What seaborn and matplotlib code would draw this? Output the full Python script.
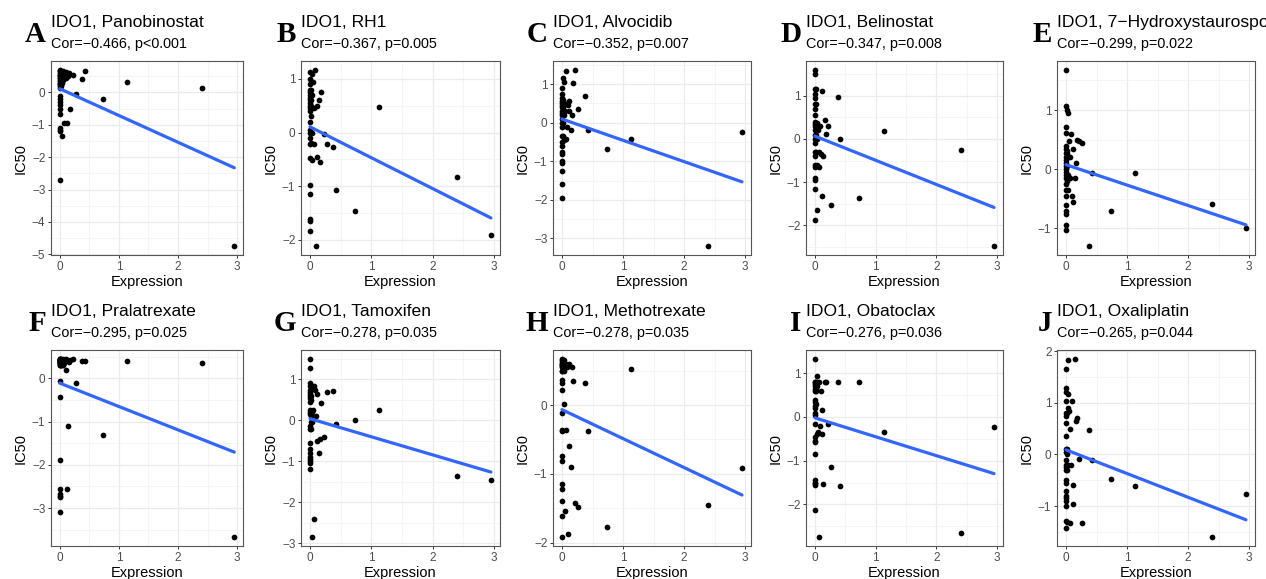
import numpy as np
import pandas as pd
import matplotlib
matplotlib.use("Agg")
import matplotlib.pyplot as plt
from matplotlib.ticker import MultipleLocator
import seaborn as sns

# ---------------- data ----------------
gene = "IDO1"
letters = ["A", "B", "C", "D", "E", "F", "G", "H", "I", "J"]
drugs = ["Panobinostat", "RH1", "Alvocidib", "Belinostat", "7\u2212Hydroxystaurosporine",
         "Pralatrexate", "Tamoxifen", "Methotrexate", "Obatoclax", "Oxaliplatin"]
cors = ["\u22120.466", "\u22120.367", "\u22120.352", "\u22120.347", "\u22120.299",
        "\u22120.295", "\u22120.278", "\u22120.278", "\u22120.276", "\u22120.265"]
pvals = ["p<0.001", "p=0.005", "p=0.007", "p=0.008", "p=0.022",
         "p=0.025", "p=0.035", "p=0.035", "p=0.036", "p=0.044"]

# shared expression values of the cell lines
expression = [0.38, 0.42, 0.73, 1.13, 2.40, 2.95,
              0.27, 0.22, 0.18, 0.16, 0.14, 0.12, 0.11, 0.10, 0.08, 0.07, 0.06,
              0.05, 0.04, 0.04, 0.03, 0.03, 0.02, 0.02, 0.01, 0.01, 0.01,
              0.0, 0.0, 0.0, 0.0, 0.0, 0.0, 0.0, 0.0, 0.0, 0.0, 0.0, 0.0,
              0.0, 0.0, 0.0, 0.0, 0.0, 0.0, 0.0, 0.0, 0.0, 0.0, 0.0]

ic50_panobinostat = [0.42, 0.65, -0.2, 0.32, 0.13, -4.75,
                     -0.05, 0.55, -0.5, 0.6, 0.5, -0.95, 0.62, 0.45, -0.93, 0.55, 0.4,
                     0.65, 0.3, 0.5, -1.35, 0.6, 0.35, 0.2, 0.65, 0.45, 0.25,
                     0.7, 0.65, 0.6, 0.55, 0.5, 0.45, 0.4, 0.35, 0.3, 0.25, 0.2, -0.1,
                     -0.2, -0.3, -0.4, -0.5, -0.65, -1.1, -1.15, -1.2, -2.72, 0.15, 0.55]
ic50_rh1 = [-0.27, -1.07, -1.47, 0.47, -0.83, -1.92,
            -0.22, -0.02, 0.75, -0.55, 0.6, -0.45, 0.5, -2.12, 1.17, 0.45, -0.22,
            0.95, -0.52, 0.7, 0.0, 1.1, -0.2, 0.6, 0.5, 0.8, 0.3,
            1.12, 1.0, 0.9, 0.8, 0.7, 0.6, 0.5, 0.45, 0.4, 0.2, 0.05, 0.0,
            -0.1, -0.22, -0.48, -0.98, -1.15, -1.62, -1.65, -1.83, 0.65, 0.55, 0.75]
ic50_alvocidib = [0.68, -0.18, -0.69, -0.43, -3.2, -0.25,
                  0.36, 1.37, 1.03, 0.2, -0.2, 0.55, 0.3, 0.45, -0.1, -0.42, 1.35,
                  0.3, 1.05, -0.45, 0.5, 0.2, -0.35, 0.6, 0.4, 1.15, 0.0,
                  0.9, 0.75, 0.65, 0.55, 0.45, 0.4, 0.3, 0.2, 0.1, 0.0, -0.1, -0.35,
                  -0.5, -0.6, -0.75, -0.8, -1.0, -1.05, -1.25, -1.58, -1.95, 0.5, 0.25]
ic50_belinostat = [0.97, 0.0, -1.36, 0.18, -0.26, -2.48,
                   -1.52, 0.3, 0.12, 0.45, -0.4, 1.12, -1.32, -0.35, 0.3, -0.3, -0.65,
                   0.2, -1.65, 0.0, 0.38, -0.6, 1.15, 0.25, 0.8, -0.3, 0.1,
                   1.6, 1.5, 1.15, 1.05, 0.95, 0.8, 0.7, 0.4, 0.3, 0.2, 0.1, 0.0,
                   -0.1, -0.3, -0.4, -0.6, -0.65, -0.9, -0.95, -1.15, -1.88, 0.55, 0.35]
ic50_hydroxystaurosporine = [-1.3, -0.06, -0.71, -0.06, -0.58, -0.99,
                             0.45, 0.47, 0.5, 0.1, -0.15, -0.55, 0.35, -0.45, 0.6, -0.15, 0.2,
                             0.48, -0.35, 0.95, 0.2, -0.1, 1.0, 0.3, -0.2, 0.05, 0.25,
                             1.68, 1.07, 0.72, 0.62, 0.4, 0.35, 0.28, 0.2, 0.1, 0.05, 0.0, -0.05,
                             -0.15, -0.25, -0.35, -0.45, -0.6, -0.7, -0.75, -0.95, -1.03, 0.15, -0.1]
ic50_pralatrexate = [0.4, 0.4, -1.32, 0.4, 0.35, -3.67,
                     -0.1, 0.45, 0.42, 0.38, -1.1, -2.55, 0.45, 0.2, 0.35, 0.42, 0.3,
                     0.45, 0.38, 0.3, 0.42, 0.35, 0.45, 0.3, 0.4, 0.35, 0.45,
                     0.45, 0.42, 0.4, 0.38, 0.35, 0.32, 0.3, 0.45, 0.4, -0.05, -0.43, -1.88,
                     -2.55, -2.68, -2.72, -2.75, -3.1, 0.35, 0.42, 0.3, 0.38, 0.45, 0.4]
ic50_tamoxifen = [0.72, -0.1, 0.02, 0.25, -1.35, -1.45,
                  0.7, -0.4, 0.43, -0.45, -0.8, 0.65, -0.5, 0.1, 0.75, 0.85, -2.42,
                  0.25, -2.85, -0.05, 0.2, 0.85, -0.2, 0.6, 0.5, 0.1, -0.05,
                  1.5, 1.27, 0.92, 0.85, 0.75, 0.65, 0.55, 0.45, 0.25, 0.2, 0.15, -0.15,
                  -0.2, -0.55, -0.7, -0.8, -0.9, -0.95, -1.0, -1.05, -1.18, 0.7, 0.6]
ic50_methotrexate = [0.32, -0.38, -1.78, 0.52, -1.45, -0.92,
                     -1.48, -1.43, 0.35, 0.55, -0.9, -0.6, 0.6, -1.88, 0.55, -0.37, 0.6,
                     -1.54, 0.02, 0.65, 0.55, 0.5, 0.62, 0.58, 0.6, 0.55, 0.65,
                     0.67, 0.63, 0.6, 0.57, 0.5, 0.37, 0.32, 0.22, -0.12, -0.37, -0.38, -0.74,
                     -0.82, -1.15, -1.22, -1.39, -1.62, -1.92, 0.55, 0.6, 0.65, 0.5, 0.58]
ic50_obatoclax = [0.8, -1.58, 0.8, -0.35, -2.65, -0.23,
                  -1.15, -0.17, 0.8, 0.8, -1.53, 0.15, -0.4, 0.6, -0.2, 0.8, -2.75,
                  -0.35, 0.95, 0.7, 0.8, -0.4, 0.65, 0.75, 0.8, 0.6, 0.3,
                  1.33, 0.8, 0.75, 0.7, 0.65, 0.6, 0.4, 0.35, 0.25, 0.1, 0.05, -0.15,
                  -0.45, -0.55, -0.58, -0.85, -1.45, -1.5, -1.52, -1.55, -2.13, 0.8, 0.2]
ic50_oxaliplatin = [0.47, -0.1, -0.47, -0.61, -1.6, -0.76,
                    -1.32, -0.08, 0.7, 0.65, 1.85, -0.95, -0.6, 1.03, -0.2, -1.33, 0.5,
                    0.85, 1.83, -0.2, 1.18, 0.9, -1.3, 0.8, -0.3, 0.0, 0.1,
                    1.65, 1.28, 1.2, 1.03, 0.8, 0.75, 0.6, 0.35, 0.1, 0.05, -0.1, -0.2,
                    -0.3, -0.5, -0.55, -0.7, -0.8, -0.85, -0.9, -1.0, -1.28, -1.43, -0.25]

ic50_all = [ic50_panobinostat, ic50_rh1, ic50_alvocidib, ic50_belinostat,
            ic50_hydroxystaurosporine, ic50_pralatrexate, ic50_tamoxifen,
            ic50_methotrexate, ic50_obatoclax, ic50_oxaliplatin]

frames = []
for d, vals in zip(drugs, ic50_all):
    frames.append(pd.DataFrame({"drug": d, "Expression": expression, "IC50": vals}))
df = pd.concat(frames, ignore_index=True)

# ---------------- style ----------------
sns.set_theme(style="white")
plt.rcParams["font.family"] = ["Liberation Sans", "DejaVu Sans"]

W, H = 1266, 579
fig = plt.figure(figsize=(W / 100, H / 100), dpi=100)

lefts = [51, 301, 553, 806, 1057]
rights = [243, 500, 751, 1003, 1255]
tops = [61, 350]
bottoms = [255, 546]

minus_fmt = matplotlib.ticker.FuncFormatter(lambda v, p: f"{v:.0f}".replace("-", "\u2212"))

for i, d in enumerate(drugs):
    r, c = divmod(i, 5)
    l, rr = lefts[c], rights[c]
    t, b = tops[r], bottoms[r]
    ax = fig.add_axes([l / W, 1 - b / H, (rr - l) / W, (b - t) / H])
    sub = df[df["drug"] == d]
    sns.regplot(data=sub, x="Expression", y="IC50", ax=ax, ci=None,
                scatter_kws=dict(s=17, color="black", alpha=1, linewidths=0, zorder=3),
                line_kws=dict(color="#3366FF", lw=2.3, zorder=4))
    x = sub["Expression"].to_numpy()
    y = sub["IC50"].to_numpy()
    xr = x.max() - x.min()
    yr = y.max() - y.min()
    ax.set_xlim(x.min() - 0.05 * xr, x.max() + 0.05 * xr)
    ax.set_ylim(y.min() - 0.05 * yr, y.max() + 0.05 * yr)
    ax.xaxis.set_major_locator(MultipleLocator(1))
    ax.xaxis.set_minor_locator(MultipleLocator(0.5))
    ax.yaxis.set_major_locator(MultipleLocator(1))
    ax.yaxis.set_minor_locator(MultipleLocator(0.5))
    ax.set_facecolor("white")
    ax.grid(True, which="major", color="#EBEBEB", lw=0.9, zorder=0)
    ax.grid(True, which="minor", color="#F2F2F2", lw=0.5, zorder=0)
    ax.set_axisbelow(True)
    for s in ax.spines.values():
        s.set_color("#555555")
        s.set_linewidth(0.8)
    ax.tick_params(which="major", length=2.5, width=0.7, color="#333333",
                   labelsize=8.5, labelcolor="#4D4D4D", pad=1.5,
                   left=True, bottom=True)
    ax.tick_params(which="minor", length=0)
    ax.xaxis.set_major_formatter(minus_fmt)
    ax.yaxis.set_major_formatter(minus_fmt)
    ax.set_xlabel("Expression", fontsize=10.5, color="black", labelpad=2)
    ax.set_ylabel("IC50", fontsize=10.5, color="black", labelpad=3)

    # titles
    fig.text(l / W, 1 - (t - 34) / H, f"{gene}, {d}", fontsize=12.6,
             ha="left", va="baseline", color="black")
    fig.text(l / W, 1 - (t - 13) / H, f"Cor={cors[i]}, {pvals[i]}", fontsize=10.4,
             ha="left", va="baseline", color="black")
    fig.text((l - 5) / W, 1 - (t - 19) / H, letters[i], fontsize=21,
             fontweight="bold", family="Liberation Serif",
             ha="right", va="baseline", color="black")

fig.savefig("out.png", dpi=100, facecolor="white")
